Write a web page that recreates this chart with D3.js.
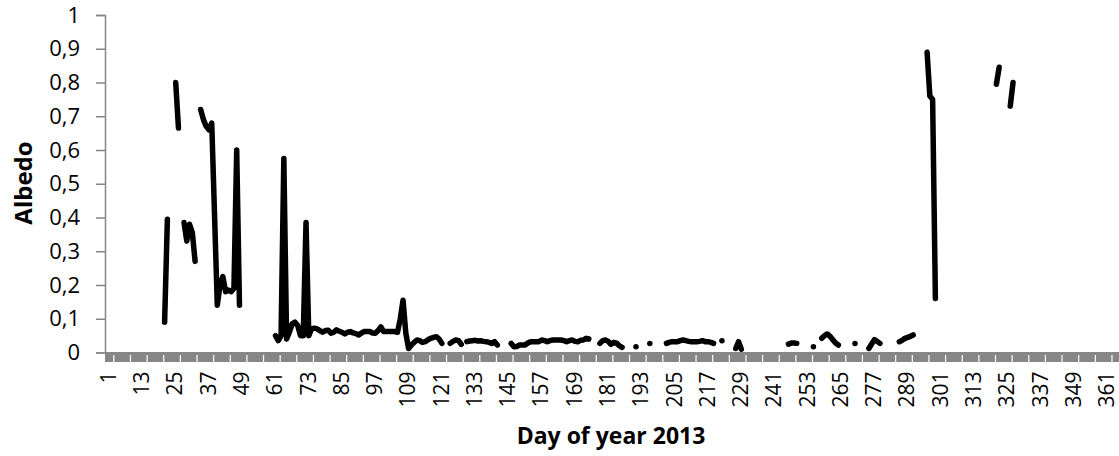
<!DOCTYPE html>
<html>
<head>
<meta charset="utf-8">
<style>
  body { margin: 0; background: #fff; }
  svg text { font-family: "Open Sans", sans-serif; }
</style>
<script src="https://cdn.jsdelivr.net/npm/d3@7"></script>
</head>
<body>
<svg id="chart"></svg>
<script>
// daily albedo readings, only the days that have a value (gaps break the line)
let days = [
  22, 23,
  26, 27,
  29, 30, 31, 32, 33,
  35, 36, 37, 38, 39, 40, 41, 42, 43, 44, 45, 46, 47, 48, 49,
  62, 63, 64, 65, 66, 67, 68, 69, 70, 71, 72, 73, 74, 75, 76, 77, 78, 79, 80,
  81, 82, 83, 84, 85, 86, 87, 88, 89, 90, 91, 92, 93, 94, 95, 96, 97, 98, 99, 100,
  101, 102, 103, 104, 105, 106, 107, 108, 109, 110, 111, 112, 113, 114, 115, 116,
  117, 118, 119, 120, 121, 122,
  125, 126, 127, 128, 129,
  131, 132, 133, 134, 135, 136, 137, 138, 139, 140, 141, 142,
  147, 148, 149, 150, 151, 152, 153, 154, 155, 156, 157, 158, 159, 160, 161, 162,
  163, 164, 165, 166, 167, 168, 169, 170, 171, 172, 173, 174, 175,
  179, 180, 181, 182, 183, 184, 185, 186, 187,
  192,
  197,
  203, 204, 205, 206, 207, 208, 209, 210, 211, 212, 213, 214, 215, 216, 217, 218, 219, 220,
  223,
  228, 229, 230,
  247, 248, 249, 250,
  256,
  259, 260, 261, 262, 263, 264, 265,
  271,
  276, 277, 278, 279, 280,
  287, 288, 289, 290, 291, 292,
  297, 298, 299, 300,
  322, 323,
  327, 328
]
let albedo = [
  0.09, 0.395,
  0.80, 0.665,
  0.385, 0.33, 0.38, 0.355, 0.27,
  0.72, 0.69, 0.67, 0.66, 0.68, 0.41, 0.14, 0.20, 0.225, 0.18, 0.185, 0.18, 0.19, 0.60, 0.14,
  0.05, 0.035, 0.05, 0.575, 0.04, 0.06, 0.085, 0.09, 0.08, 0.05, 0.05, 0.385, 0.05, 0.07, 0.072, 0.07, 0.065, 0.06, 0.065,
  0.066, 0.057, 0.06, 0.067, 0.063, 0.06, 0.055, 0.06, 0.062, 0.058, 0.056, 0.052, 0.058, 0.062, 0.062, 0.062, 0.058, 0.057, 0.065, 0.076,
  0.062, 0.062, 0.062, 0.062, 0.062, 0.06, 0.10, 0.155, 0.057, 0.012, 0.022, 0.03, 0.037, 0.035, 0.03, 0.032,
  0.038, 0.042, 0.045, 0.047, 0.04, 0.027,
  0.027, 0.033, 0.037, 0.035, 0.024,
  0.032, 0.034, 0.035, 0.036, 0.034, 0.035, 0.033, 0.032, 0.03, 0.027, 0.032, 0.022,
  0.027, 0.017, 0.018, 0.022, 0.022, 0.022, 0.028, 0.032, 0.032, 0.032, 0.032, 0.037, 0.035, 0.032, 0.035, 0.037,
  0.037, 0.037, 0.037, 0.035, 0.032, 0.035, 0.037, 0.033, 0.032, 0.036, 0.037, 0.042, 0.04,
  0.027, 0.035, 0.037, 0.033, 0.024, 0.03, 0.028, 0.02, 0.015,
  0.017,
  0.027,
  0.027, 0.03, 0.032, 0.032, 0.032, 0.035, 0.037, 0.035, 0.033, 0.032, 0.032, 0.032, 0.033, 0.035, 0.032, 0.032, 0.03, 0.027,
  0.035,
  0.012, 0.032, 0.01,
  0.025, 0.028, 0.028, 0.027,
  0.017,
  0.042, 0.05, 0.055, 0.048, 0.038, 0.028, 0.022,
  0.027,
  0.012, 0.025, 0.038, 0.033, 0.027,
  0.032, 0.036, 0.042, 0.045, 0.048, 0.052,
  0.89, 0.76, 0.75, 0.16,
  0.795, 0.845,
  0.73, 0.80
]

let allDays = d3.range(1, 366)
let labelDays = d3.range(1, 366, 12)      // 1, 13, 25 ... 361
let yTicks = d3.range(0, 1.01, 0.1)

let width = 1119
let height = 456
let margin = { top: 15, left: 105, bottom: 103.5 }
let plotRight = 1117

let svg = d3.select("#chart")
  .attr("width", width)
  .attr("height", height)

let x = d3.scaleBand()
  .domain(allDays)
  .range([margin.left, plotRight])
let xc = d => x(d) + x.bandwidth() / 2

let y = d3.scaleLinear()
  .domain([0, 1])
  .range([height - margin.bottom, margin.top])

let comma = d3.formatLocale({ decimal: ",", thousands: ".", grouping: [3], currency: ["", ""] })
let fmt = v => (Math.abs(v) < 1e-9 ? "0" : Math.abs(v - 1) < 1e-9 ? "1" : comma.format(".1f")(v))

let axisGrey = "#868686"
let y0 = y(0)

// y axis
let gy = svg.append("g")
  .attr("transform", `translate(${margin.left},0)`)
  .call(d3.axisLeft(y).tickValues(yTicks).tickSize(9).tickPadding(16).tickFormat(fmt))
gy.select(".domain").attr("stroke", axisGrey).attr("stroke-width", 1.5)
gy.selectAll(".tick line").attr("stroke", axisGrey).attr("stroke-width", 1.5)
gy.selectAll("text").attr("fill", "#000").style("font-size", "22px")

// x axis: dense category ticks form the grey band
svg.append("rect")
  .attr("x", margin.left)
  .attr("y", y0 - 0.5)
  .attr("width", plotRight - margin.left + 5)
  .attr("height", 10)
  .attr("fill", axisGrey)

let gxw = svg.append("g")
  .attr("transform", `translate(0,${y0 + 2.5})`)
  .call(d3.axisBottom(d3.scaleLinear().domain([0.5, 365.5]).range([margin.left, plotRight]))
    .tickValues(d3.range(3.5, 366, 6)).tickSize(8).tickFormat(""))
gxw.select(".domain").remove()
gxw.selectAll(".tick line").attr("stroke", "#fff").attr("stroke-width", 1.2)

let gx = svg.append("g")
  .attr("transform", `translate(0,${y0})`)
  .call(d3.axisBottom(x).tickValues(labelDays).tickSize(0).tickPadding(0))
gx.select(".domain").remove()
gx.selectAll("text")
  .attr("fill", "#000")
  .style("font-size", "21px")
  .attr("text-anchor", "end")
  .attr("transform", "rotate(-90)")
  .attr("x", -19)
  .attr("y", 0)
  .attr("dy", "0.36em")
gx.selectAll(".tick").attr("transform", d => `translate(${xc(d) + 2},0)`)

// axis titles
svg.append("text")
  .attr("x", 611)
  .attr("y", 444)
  .attr("text-anchor", "middle")
  .style("font-size", "23px")
  .style("font-weight", "bold")
  .text("Day of year 2013")

svg.append("text")
  .attr("transform", "translate(32,183) rotate(-90)")
  .attr("text-anchor", "middle")
  .style("font-size", "24px")
  .style("font-weight", "bold")
  .text("Albedo")

// series: break the line wherever a day is missing
let points = days.map((d, i) => ({ day: d, v: albedo[i] }))
let segments = []
points.forEach((p, i) => {
  if (i === 0 || p.day !== points[i - 1].day + 1) segments.push([])
  segments[segments.length - 1].push(p)
})

let line = d3.line()
  .x(p => xc(p.day))
  .y(p => y(p.v))

svg.append("g")
  .selectAll("path")
  .data(segments)
  .join("path")
  .attr("d", s => s.length > 1 ? line(s) : `M${xc(s[0].day)},${y(s[0].v)}l0.01,0`)
  .attr("fill", "none")
  .attr("stroke", "#000")
  .attr("stroke-width", 5.5)
  .attr("stroke-linecap", "round")
  .attr("stroke-linejoin", "round")
</script>
</body>
</html>
